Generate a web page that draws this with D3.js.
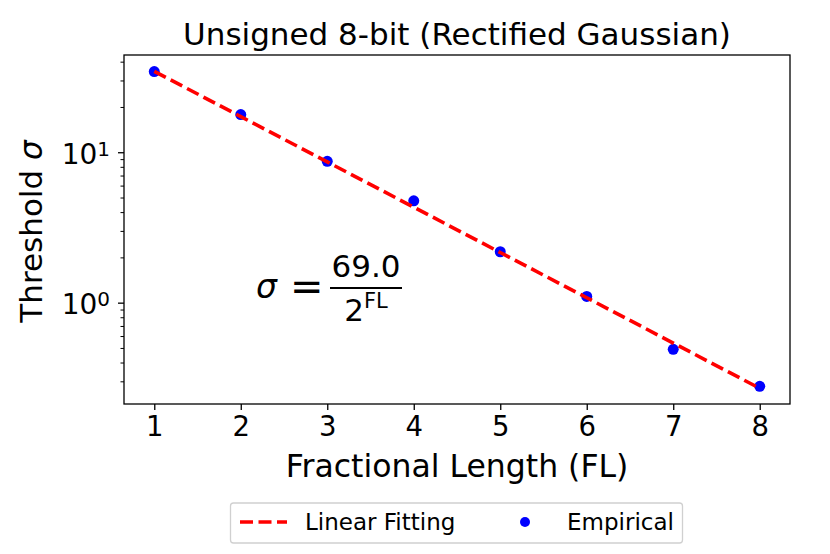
<!DOCTYPE html>
<html><head><meta charset="utf-8">
<script src="https://cdn.jsdelivr.net/npm/d3@7"></script>
<style>body{margin:0;background:#fff}svg{display:block;font-family:"DejaVu Sans",sans-serif}</style>
</head><body>
<svg id="c" width="830" height="554"></svg>
<script>
const fractionalLength = [1,2,3,4,5,6,7,8];
const empirical = [34.4,17.8,8.7,4.75,2.18,1.1,0.49,0.278];
const fitNumerator = 69.0;
const fitted = [34.5,17.25,8.625,4.3125,2.156,1.078,0.539,0.2695];
const xTicks = [1,2,3,4,5,6,7,8];
const yMajorTicks = [1,10];
const yMinorTicks = [0.3,0.4,0.5,0.6,0.7,0.8,0.9,2,3,4,5,6,7,8,9,20,30,40];

const svg = d3.select("#c");
const L=124,R=790,T=55,B=404;
const x = d3.scaleLinear().domain([0.65,8.35]).range([L,R]);
const y = d3.scaleLog().domain([0.212,44.3]).range([B,T]);

// axes
const xa = svg.append("g").attr("transform",`translate(0,${B})`)
  .call(d3.axisBottom(x).tickValues(xTicks).tickSize(6).tickPadding(6).tickFormat(d3.format("d")));
xa.select(".domain").remove();
xa.selectAll("line").attr("stroke","#000").attr("stroke-width",1.3);
xa.selectAll("text").attr("font-size",27.5).attr("font-family","DejaVu Sans").attr("fill","#000");

const ya = svg.append("g").attr("transform",`translate(${L},0)`)
  .call(d3.axisLeft(y).tickValues(yMajorTicks).tickSize(6).tickPadding(8).tickFormat(()=>""));
ya.select(".domain").remove();
ya.selectAll("line").attr("stroke","#000").attr("stroke-width",1.3);
ya.selectAll(".tick text").each(function(d){
  const t=d3.select(this).attr("font-size",28).attr("font-family","DejaVu Sans").attr("fill","#000").attr("dy","0.4em");
  t.append("tspan").text("10");
  t.append("tspan").attr("font-size",20).attr("dy","-0.42em").text(Math.round(Math.log10(d)));
});
const ym = svg.append("g").attr("transform",`translate(${L},0)`)
  .call(d3.axisLeft(y).tickValues(yMinorTicks).tickSize(3.5).tickFormat(()=>""));
ym.select(".domain").remove();
ym.selectAll("line").attr("stroke","#000").attr("stroke-width",1);

// points
svg.append("g").selectAll("circle").data(fractionalLength).join("circle")
  .attr("cx",d=>x(d)).attr("cy",(d,i)=>y(empirical[i])).attr("r",5.5).attr("fill","#0000ff");

// fitted line
const line = d3.line().x(d=>x(d)).y((d,i)=>y(fitted[i]));
svg.append("path").datum(fractionalLength).attr("d",line).attr("fill","none")
  .attr("stroke","#ff0000").attr("stroke-width",3.6).attr("stroke-dasharray","13,5.5");

// frame
svg.append("rect").attr("x",L).attr("y",T).attr("width",R-L).attr("height",B-T)
  .attr("fill","none").attr("stroke","#000").attr("stroke-width",1.3);

// title
svg.append("text").attr("x",(L+R)/2).attr("y",45).attr("text-anchor","middle")
  .attr("font-size",31).text("Unsigned 8-bit (Rectified Gaussian)");
// x label
svg.append("text").attr("x",(L+R)/2).attr("y",477).attr("text-anchor","middle")
  .attr("font-size",31.5).text("Fractional Length (FL)");
// y label
const yl = svg.append("text").attr("transform",`translate(42,${(T+B)/2+2}) rotate(-90)`)
  .attr("text-anchor","middle").attr("font-size",31);
yl.append("tspan").text("Threshold ");
yl.append("tspan").attr("font-style","italic").text("σ");

// equation
const eq = svg.append("g");
eq.append("text").attr("x",256).attr("y",298).attr("font-size",33).attr("font-style","italic").text("σ");
eq.append("text").attr("x",290).attr("y",300).attr("font-size",40).text("=");
eq.append("line").attr("x1",330).attr("x2",402).attr("y1",288).attr("y2",288).attr("stroke","#000").attr("stroke-width",2);
eq.append("text").attr("x",366).attr("y",277).attr("text-anchor","middle").attr("font-size",31).text(fitNumerator.toFixed(1));
const den = eq.append("text").attr("x",366).attr("y",321).attr("text-anchor","middle").attr("font-size",31);
den.append("tspan").text("2");
den.append("tspan").attr("font-size",21).attr("dy","-0.6em").text("FL");

// legend
const lg = svg.append("g");
lg.append("rect").attr("x",230.5).attr("y",503).attr("width",452).attr("height",40).attr("rx",3)
  .attr("fill","#fff").attr("stroke","#d0d0d0").attr("stroke-width",1.3);
lg.append("line").attr("x1",240).attr("x2",287).attr("y1",522).attr("y2",522)
  .attr("stroke","#ff0000").attr("stroke-width",3.6).attr("stroke-dasharray","13,5.5");
lg.append("text").attr("x",305).attr("y",530).attr("font-size",23).text("Linear Fitting");
lg.append("circle").attr("cx",525).attr("cy",522).attr("r",5).attr("fill","#0000ff");
lg.append("text").attr("x",567).attr("y",530).attr("font-size",23).text("Empirical");
</script>
</body></html>
